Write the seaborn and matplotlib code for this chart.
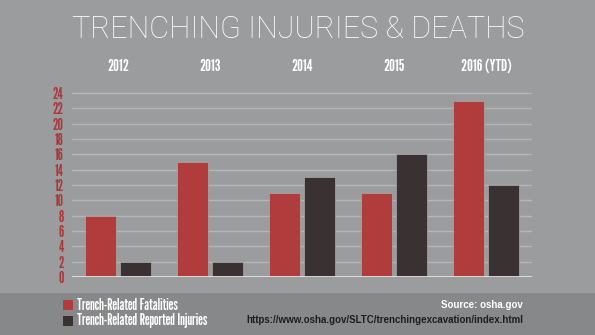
import matplotlib
matplotlib.use("Agg")
import matplotlib.pyplot as plt
import seaborn as sns
import pandas as pd
from matplotlib.patches import Rectangle

years = ["2012", "2013", "2014", "2015", "2016 (YTD)"]
fatalities = [8, 15, 11, 11, 23]
injuries = [2, 2, 13, 16, 12]
series_names = ["Trench-Related Fatalities", "Trench-Related Reported Injuries"]
y_ticks = list(range(0, 25, 2))

BG = "#9b9c9e"
FOOT = "#87888a"
RED = "#b03c3c"
DARK = "#393132"
TICKRED = "#a8383a"

df = pd.DataFrame({
    "year": years * 2,
    "value": fatalities + injuries,
    "series": [series_names[0]] * len(years) + [series_names[1]] * len(years),
})

sns.set_theme(style="white")
COND = ["League Gothic", "Barlow Condensed", "DejaVu Sans"]

fig = plt.figure(figsize=(5.95, 3.35), dpi=100, facecolor=BG)
fig.patches.append(Rectangle((0, 0), 1, 42 / 335, transform=fig.transFigure,
                             facecolor=FOOT, edgecolor="none", zorder=0))

ymax = 24.3
ax = fig.add_axes([72 / 595, 1 - 277 / 335, 460 / 595, (184 / 24 * ymax) / 335])
ax.set_facecolor(BG)

sns.barplot(data=df, x="year", y="value", hue="series", order=years,
            hue_order=series_names, palette=[RED, DARK], saturation=1,
            width=0.76, gap=0.1,
            edgecolor="#a9a9a9", linewidth=0.5, legend=False, ax=ax, zorder=3)

ax.set_ylim(0, ymax)
ax.set_xlim(-0.5, len(years) - 0.5)
ax.set_yticks(y_ticks)
for y in y_ticks[1:]:
    ax.axhline(y, color="#b5b6b8", linewidth=1.0, zorder=1)
ax.axhline(0, color="#e6e6e6", linewidth=2.0, zorder=4)

for s in ax.spines.values():
    s.set_visible(False)
ax.set_xlabel("")
ax.set_ylabel("")
ax.xaxis.tick_top()
ax.tick_params(axis="x", length=0, pad=12)
ax.tick_params(axis="y", length=0, pad=6)
for lab in ax.get_xticklabels():
    lab.set_family(COND)
    lab.set_fontsize(12)
    lab.set_color("white")
for lab in ax.get_yticklabels():
    lab.set_family(COND)
    lab.set_fontsize(11)
    lab.set_color(TICKRED)

fig.text(298 / 595, 1 - 29 / 335, "TRENCHING INJURIES & DEATHS", ha="center", va="center",
         fontsize=22, color="white", family=["Roboto", "DejaVu Sans"], fontweight="light")

for i, (name, col) in enumerate(zip(series_names, [RED, DARK])):
    yc = 1 - (305 + i * 16) / 335
    fig.patches.append(Rectangle((63 / 595, yc - 5 / 335), 10 / 595, 10 / 335,
                                 transform=fig.transFigure, facecolor=col,
                                 edgecolor="none", zorder=2))
    fig.text(77 / 595, yc, name, ha="left", va="center", fontsize=11,
             color="white", family=COND)

fig.text(523 / 595, 1 - 305 / 335, "Source: osha.gov", ha="right", va="center",
         fontsize=7, color="white", family=["Liberation Sans", "DejaVu Sans"], fontweight="bold")
fig.text(523 / 595, 1 - 320 / 335, "https://www.osha.gov/SLTC/trenchingexcavation/index.html",
         ha="right", va="center", fontsize=7.0, color="#1e1e1e",
         family=["Liberation Sans", "DejaVu Sans"], fontweight="bold")

fig.savefig("out.png", dpi=100, facecolor=BG)
